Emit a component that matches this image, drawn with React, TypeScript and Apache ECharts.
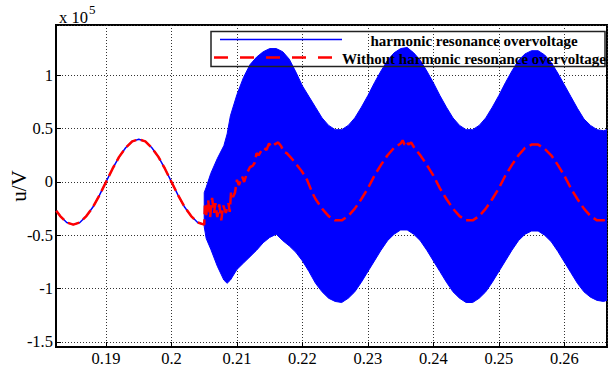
import React, { useEffect, useRef } from "react";
import * as echarts from "echarts";

// ---- data (values in units of 1e5 V) ----
// steady-state part before the disturbance (both curves coincide)
const preT = [0.1824, 0.183, 0.184, 0.185, 0.186, 0.187, 0.188, 0.189, 0.19, 0.191, 0.192, 0.193, 0.194, 0.195, 0.196, 0.197, 0.198, 0.199, 0.2, 0.201, 0.202, 0.203, 0.204, 0.205];
const preV = [-0.27, -0.32, -0.38, -0.4, -0.38, -0.32, -0.235, -0.124, 0, 0.124, 0.235, 0.32, 0.38, 0.4, 0.38, 0.32, 0.235, 0.124, 0, -0.124, -0.235, -0.32, -0.38, -0.4];

// red curve after 0.205 s (without harmonic resonance)
const redT = [0.2051, 0.2053, 0.2056, 0.2059, 0.2062, 0.2065, 0.2067, 0.207, 0.2073, 0.2076, 0.2079, 0.2083, 0.2087, 0.2089, 0.2091, 0.2094, 0.2097, 0.21, 0.2103, 0.2108, 0.2111, 0.2115, 0.212, 0.2124, 0.2127, 0.213, 0.2133, 0.2137, 0.2141, 0.2145, 0.2149, 0.2153, 0.2157, 0.2163, 0.2167, 0.2172, 0.2176, 0.2182, 0.2189, 0.2199, 0.2207, 0.2215, 0.222, 0.223, 0.224, 0.225, 0.226, 0.227, 0.228, 0.229, 0.23, 0.231, 0.232, 0.233, 0.234, 0.235, 0.2353, 0.2356, 0.2359, 0.2362, 0.2366, 0.237, 0.238, 0.239, 0.24, 0.241, 0.242, 0.243, 0.244, 0.245, 0.246, 0.247, 0.248, 0.249, 0.25, 0.251, 0.252, 0.253, 0.254, 0.255, 0.256, 0.257, 0.258, 0.259, 0.26, 0.261, 0.262, 0.263, 0.264, 0.265, 0.266, 0.2665];
const redV = [-0.22, -0.31, -0.17, -0.33, -0.15, -0.29, -0.2, -0.33, -0.21, -0.36, -0.22, -0.29, -0.2, -0.28, -0.09, -0.14, -0.1, 0.02, -0.03, 0.05, 0.0, 0.08, 0.14, 0.15, 0.18, 0.27, 0.25, 0.29, 0.32, 0.3, 0.36, 0.33, 0.35, 0.37, 0.34, 0.28, 0.27, 0.23, 0.18, 0.1, 0.02, -0.1, -0.16, -0.25, -0.32, -0.36, -0.36, -0.32, -0.25, -0.16, -0.06, 0.06, 0.16, 0.25, 0.32, 0.36, 0.39, 0.35, 0.38, 0.35, 0.37, 0.33, 0.25, 0.16, 0.06, -0.06, -0.16, -0.25, -0.32, -0.36, -0.36, -0.32, -0.25, -0.16, -0.06, 0.06, 0.16, 0.25, 0.32, 0.35, 0.35, 0.31, 0.25, 0.16, 0.06, -0.06, -0.16, -0.25, -0.32, -0.36, -0.36, -0.35];

// blue curve after 0.205 s: envelope of the high-frequency resonance oscillation
const bandT = [0.205, 0.2053, 0.206, 0.207, 0.208, 0.2085, 0.209, 0.21, 0.211, 0.212, 0.213, 0.214, 0.215, 0.216, 0.217, 0.218, 0.219, 0.22, 0.221, 0.222, 0.223, 0.224, 0.225, 0.226, 0.227, 0.228, 0.229, 0.23, 0.231, 0.232, 0.233, 0.234, 0.235, 0.236, 0.237, 0.238, 0.239, 0.24, 0.241, 0.242, 0.243, 0.244, 0.245, 0.246, 0.247, 0.248, 0.249, 0.25, 0.251, 0.252, 0.253, 0.254, 0.255, 0.256, 0.257, 0.258, 0.259, 0.26, 0.261, 0.262, 0.263, 0.264, 0.265, 0.266, 0.2665];
const bandUpper = [-0.1, -0.05, 0.08, 0.22, 0.34, 0.45, 0.62, 0.82, 0.98, 1.1, 1.17, 1.22, 1.25, 1.25, 1.22, 1.15, 1.03, 0.9, 0.8, 0.7, 0.6, 0.53, 0.49, 0.49, 0.53, 0.6, 0.7, 0.81, 0.93, 1.04, 1.14, 1.21, 1.25, 1.26, 1.21, 1.14, 1.04, 0.93, 0.81, 0.7, 0.6, 0.53, 0.49, 0.49, 0.53, 0.6, 0.7, 0.81, 0.93, 1.04, 1.14, 1.2, 1.23, 1.23, 1.19, 1.12, 1.02, 0.91, 0.8, 0.69, 0.59, 0.53, 0.49, 0.48, 0.49];
const bandLower = [-0.42, -0.53, -0.63, -0.79, -0.92, -0.95, -0.92, -0.82, -0.76, -0.7, -0.64, -0.57, -0.52, -0.49, -0.55, -0.6, -0.66, -0.74, -0.84, -0.95, -1.03, -1.09, -1.12, -1.13, -1.09, -1.03, -0.94, -0.84, -0.74, -0.64, -0.55, -0.49, -0.45, -0.45, -0.49, -0.55, -0.64, -0.74, -0.84, -0.94, -1.03, -1.09, -1.13, -1.13, -1.09, -1.03, -0.94, -0.84, -0.74, -0.64, -0.55, -0.49, -0.46, -0.46, -0.5, -0.56, -0.65, -0.75, -0.85, -0.95, -1.03, -1.08, -1.11, -1.12, -1.11];

const seriesNames = ["harmonic resonance overvoltage", "Without harmonic resonance overvoltage"];
const xMin = 0.18236;
const xMax = 0.26652;
const yMin = -1.547;
const yMax = 1.471;

const FONT = "'Liberation Serif', 'Times New Roman', serif";
const BLUE = "#0000ff";
const RED = "#ff0000";

export default function App() {
  const ref = useRef<HTMLDivElement>(null);

  useEffect(() => {
    if (!ref.current) return;
    const chart = echarts.init(ref.current, undefined, { renderer: "svg" });

    const preData = preT.map((t, i) => [t, preV[i]]);
    const redData = preData.concat(redT.map((t, i) => [t, redV[i]]));
    const bandData = bandT.map((t, i) => [t, bandUpper[i], bandLower[i]]);

    const axisLabelStyle = { fontFamily: FONT, fontSize: 16.5, color: "#000" };

    chart.setOption({
      animation: false,
      backgroundColor: "#fff",
      grid: {
        left: 56,
        top: 25,
        right: 3,
        bottom: 20,
        outerBoundsMode: "none",
        containLabel: false,
        show: true,
        borderColor: "#000",
        borderWidth: 2,
        backgroundColor: "transparent",
      },
      xAxis: {
        type: "value",
        min: xMin,
        max: xMax,
        splitNumber: 8,
        axisLine: { show: true, onZero: false, lineStyle: { color: "#000", width: 2 } },
        axisTick: { show: true, inside: true, length: 5, lineStyle: { color: "#000", width: 1 } },
        axisLabel: {
          ...axisLabelStyle,
          margin: 3,
          showMinLabel: false,
          showMaxLabel: false,
          formatter: (v: number) => String(+v.toFixed(4)),
        },
        splitLine: { show: true, lineStyle: { color: "#333", width: 1, type: [1, 2] } },
      },
      yAxis: {
        type: "value",
        min: yMin,
        max: yMax,
        splitNumber: 6,
        name: "u/V",
        nameLocation: "middle",
        nameGap: 27,
        nameRotate: 90,
        nameMoveOverlap: false,
        nameTextStyle: { fontFamily: FONT, fontSize: 21, color: "#000" },
        axisLine: { show: true, onZero: false, lineStyle: { color: "#000", width: 2 } },
        axisTick: { show: true, inside: true, length: 5, lineStyle: { color: "#000", width: 1 } },
        axisLabel: {
          ...axisLabelStyle,
          margin: 3,
          showMinLabel: false,
          showMaxLabel: false,
          formatter: (v: number) => String(+v.toFixed(4)),
        },
        splitLine: { show: true, lineStyle: { color: "#333", width: 1, type: [1, 2] } },
      },
      series: [
        {
          name: seriesNames[0],
          type: "custom",
          data: bandData,
          encode: { x: 0, y: [1, 2] },
          clip: true,
          silent: true,
          z: 2,
          renderItem: (params: any, api: any) => {
            if (params.dataIndex !== 0) return null;
            const pts: number[][] = [];
            for (let i = 0; i < bandT.length; i++) pts.push(api.coord([bandT[i], bandUpper[i]]));
            for (let i = bandT.length - 1; i >= 0; i--) pts.push(api.coord([bandT[i], bandLower[i]]));
            return {
              type: "polygon",
              shape: { points: pts },
              style: { fill: BLUE, stroke: BLUE, lineWidth: 1 },
            };
          },
        },
        {
          name: seriesNames[0] + " (pre)",
          type: "line",
          data: preData,
          symbol: "none",
          silent: true,
          lineStyle: { color: BLUE, width: 1.5 },
          z: 3,
        },
        {
          name: seriesNames[1],
          type: "line",
          data: redData,
          symbol: "none",
          silent: true,
          lineStyle: { color: RED, width: 2.5, type: [12, 5] },
          z: 4,
        },
      ],
      graphic: [
        {
          type: "text",
          left: 59,
          top: 9,
          style: { text: "x 10", font: `16.5px ${FONT}`, fill: "#000" },
          z: 10,
        },
        {
          type: "text",
          left: 89,
          top: 3,
          style: { text: "5", font: `13px ${FONT}`, fill: "#000" },
          z: 10,
        },
        {
          type: "rect",
          shape: { x: 211, y: 31.5, width: 394, height: 35 },
          style: { fill: "none", stroke: "#222", lineWidth: 1.5 },
          z: 10,
        },
        {
          type: "line",
          shape: { x1: 220, y1: 39.5, x2: 342, y2: 39.5 },
          style: { stroke: BLUE, lineWidth: 1.5 },
          z: 10,
        },
        {
          type: "line",
          shape: { x1: 214, y1: 57.5, x2: 342, y2: 57.5 },
          style: { stroke: RED, lineWidth: 2.5, lineDash: [14, 12] },
          z: 10,
        },
        {
          type: "text",
          x: 474,
          y: 41,
          style: {
            text: seriesNames[0],
            font: `bold 15px ${FONT}`,
            fill: "#000",
            align: "center",
            verticalAlign: "middle",
          },
          z: 11,
        },
        {
          type: "text",
          x: 474,
          y: 58.5,
          style: {
            text: seriesNames[1],
            font: `bold 15px ${FONT}`,
            fill: "#000",
            align: "center",
            verticalAlign: "middle",
          },
          z: 11,
        },
      ],
    });

    return () => {
      chart.dispose();
    };
  }, []);

  return (
    <div
      ref={ref}
      style={{ position: "fixed", left: 0, top: 0, width: 610, height: 367, background: "#fff" }}
    />
  );
}
